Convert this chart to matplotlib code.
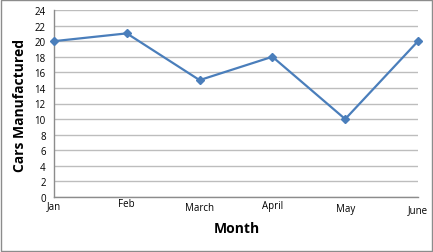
import matplotlib
matplotlib.use('Agg')
import matplotlib.pyplot as plt
from matplotlib.patches import Rectangle

# data
months = ['Jan', 'Feb', 'March', 'April', 'May', 'June']
cars = [20, 21, 15, 18, 10, 20]
# the month labels sit at slightly different heights in the original
label_drop = [0, -2, 2, 0, 3, 4]
y_ticks = list(range(0, 25, 2))

plt.rcParams['font.family'] = ['Open Sans', 'DejaVu Sans']

fig = plt.figure(figsize=(4.33, 2.53), dpi=100)
ax = fig.add_axes([54/433, 55/253, 364/433, 187/253])

x = list(range(len(months)))
ax.plot(x, cars, color='#4a7ebb', lw=1.6, marker='D', ms=4, mfc='#4a7ebb', mec='#4a7ebb',
        zorder=3, clip_on=False)

ax.set_xlim(0, len(months) - 1)
ax.set_ylim(0, 24)
ax.set_yticks(y_ticks)
ax.set_yticklabels([str(v) for v in y_ticks], fontsize=7)
ax.yaxis.grid(True, color='#bdbdbd', lw=1)
ax.set_axisbelow(True)
ax.tick_params(axis='y', length=0, pad=6)
ax.tick_params(axis='x', length=0)

ax.set_xticks(x)
ax.set_xticklabels([])
for i, (m, d) in enumerate(zip(months, label_drop)):
    ax.annotate(m, (i, 0), xytext=(0, -9 - d), textcoords='offset pixels',
                ha='center', va='center', fontsize=7, annotation_clip=False)

for s in ['top', 'right']:
    ax.spines[s].set_visible(False)
for s in ['left', 'bottom']:
    ax.spines[s].set_color('#8c8c8c')
    ax.spines[s].set_linewidth(1)

fig.text(20/433, 1 - 105/253, 'Cars Manufactured', rotation=90, ha='center', va='center',
         fontsize=10, fontweight='bold')
fig.text(237/433, 1 - 229/253, 'Month', ha='center', va='center', fontsize=10, fontweight='bold')

# outer chart border
fig.patches.append(Rectangle((0.002, 0.004), 0.996, 0.992, transform=fig.transFigure,
                             fill=False, edgecolor='#8c8c8c', lw=1))

fig.savefig('out.png', dpi=100)
